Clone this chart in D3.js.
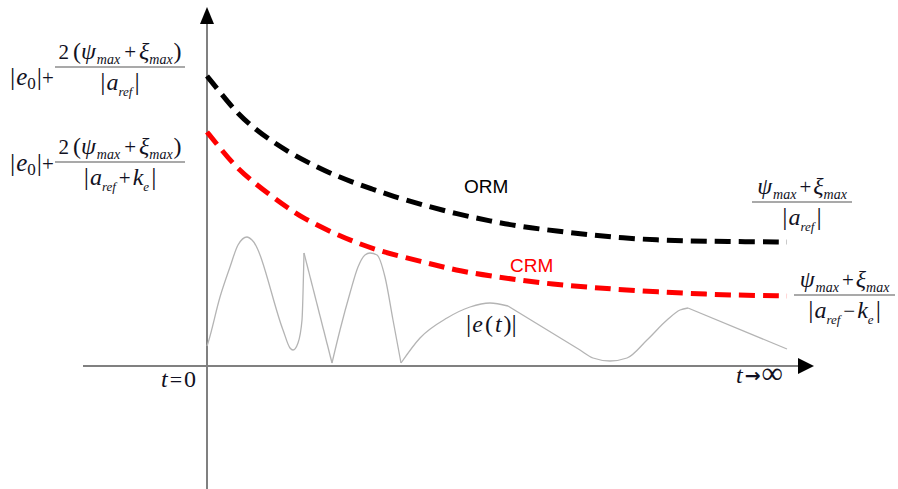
<!DOCTYPE html>
<html>
<head>
<meta charset="utf-8">
<script src="https://cdn.jsdelivr.net/npm/d3@7"></script>
<style>
  body { margin: 0; background: #fff; }
  svg { display: block; }
</style>
</head>
<body>
<script>
// bounds sketch: time t on x, error size on y (units)
var ormT = [0, 16, 31, 48, 66, 85, 106, 125, 145, 165, 185, 216, 250, 283, 316, 350, 383, 416, 450, 483, 516, 580];
var ormV = [290, 270, 252, 237, 224, 212, 201, 192, 184, 177, 170, 161, 152, 145, 139, 135, 131, 128, 126, 125, 124.5, 124];

var crmT = [0, 13, 28, 45, 63, 81, 96, 126, 150, 173, 200, 226, 253, 283, 313, 343, 390, 450, 516, 580];
var crmV = [234, 218, 200, 185, 171, 158, 148, 133, 123, 115, 108, 101.5, 95, 90, 86, 82, 78, 74, 71, 70];

var errT = [0, 1, 13, 23, 31, 40, 45, 76, 83, 86, 91, 95, 97, 125, 133, 143, 151, 158, 163, 170, 178, 186, 194,
            213, 240, 263, 283, 301, 373, 386, 403, 420, 440, 460, 473, 481, 580];
var errV = [20, 23, 69, 99, 121, 129, 126, 36, 18, 16, 23, 46, 113, 3, 36, 73, 99, 111, 113, 111, 89, 46, 3,
            28, 48, 59, 63, 60, 16, 8, 5, 8, 26, 46, 56, 58, 17];
// corners of |e(t)| where the curve is not smooth
var errCorners = [97, 125, 194, 301, 481];

var width = 898, height = 489;
var ink = "#111122";
var serif = "'Liberation Serif', 'Times New Roman', serif";
var sans = "'Liberation Sans', Arial, sans-serif";

var svg = d3.select("body").append("svg")
    .attr("width", width)
    .attr("height", height);

var x = d3.scaleLinear().domain([0, 600]).range([207, 807]);
var y = d3.scaleLinear().domain([0, 360]).range([366, 6]);

// axes (no ticks, just arrows)
svg.append("line")
    .attr("x1", x(-124)).attr("x2", x(592))
    .attr("y1", y(0)).attr("y2", y(0))
    .attr("stroke", "#808080").attr("stroke-width", 2);
svg.append("path")
    .attr("d", "M" + x(591) + "," + (y(0) - 8) + "L" + x(607) + "," + y(0) + "L" + x(591) + "," + (y(0) + 8) + "Z")
    .attr("fill", "#000");

svg.append("line")
    .attr("x1", x(0)).attr("x2", x(0))
    .attr("y1", y(-130)).attr("y2", y(344))
    .attr("stroke", "#808080").attr("stroke-width", 2);
svg.append("path")
    .attr("d", "M" + (x(0) - 7) + "," + y(342) + "L" + x(0) + "," + y(359) + "L" + (x(0) + 7) + "," + y(342) + "Z")
    .attr("fill", "#000");

function pts(ts, vs) { return ts.map(function(t, i) { return [t, vs[i]]; }); }

var smooth = d3.line()
    .x(function(d) { return x(d[0]); })
    .y(function(d) { return y(d[1]); })
    .curve(d3.curveBasis);

var piece = d3.line()
    .x(function(d) { return x(d[0]); })
    .y(function(d) { return y(d[1]); })
    .curve(d3.curveMonotoneX);

// split |e(t)| at its corners, smooth in between
var errPts = pts(errT, errV);
var segs = [], cur = [];
errPts.forEach(function(p) {
  cur.push(p);
  if (errCorners.indexOf(p[0]) >= 0) { segs.push(cur); cur = [p]; }
});
segs.push(cur);

svg.append("g").selectAll("path")
    .data(segs)
    .enter().append("path")
    .attr("d", piece)
    .attr("fill", "none")
    .attr("stroke", "#b4b4b4")
    .attr("stroke-width", 1.3)
    .attr("stroke-linejoin", "miter");

svg.append("path")
    .attr("d", smooth(pts(ormT, ormV)))
    .attr("fill", "none")
    .attr("stroke", "#000")
    .attr("stroke-width", 5)
    .attr("stroke-dasharray", "16,8");

svg.append("path")
    .attr("d", smooth(pts(crmT, crmV)))
    .attr("fill", "none")
    .attr("stroke", "#ff0000")
    .attr("stroke-width", 5)
    .attr("stroke-dasharray", "16,8");

// little math typesetter: parts = [text, {i: italic, s: size, sub: subscript, dx: gap}]
function mtext(g, px, py, parts, anchor) {
  var t = g.append("text")
      .attr("x", px).attr("y", py)
      .attr("text-anchor", anchor || "start")
      .attr("font-family", serif)
      .attr("fill", ink);
  var shift = 0;
  parts.forEach(function(p) {
    var o = p[1] || {};
    var s = t.append("tspan").text(p[0])
        .attr("font-style", o.i ? "italic" : "normal")
        .attr("font-size", o.s || 20);
    var target = o.sub ? (o.sub === true ? 5 : o.sub) : 0;
    var dy = target - shift;
    shift = target;
    if (dy) s.attr("dy", dy);
    if (o.dx) s.attr("dx", o.dx);
  });
  return t;
}

function frac(g, x1, x2, yb, num, den) {
  var cx = (x1 + x2) / 2;
  g.append("line")
      .attr("x1", x1).attr("x2", x2).attr("y1", yb).attr("y2", yb)
      .attr("stroke", "#555").attr("stroke-width", 1.2);
  mtext(g, cx, yb - 8, num, "middle");
  mtext(g, cx, yb + 23, den, "middle");
}

var bar = ["|", {s: 26}];
var numFull = [["2", {s: 21}], ["(", {s: 24, dx: 4}], ["\u03c8", {i: true, s: 24}], ["max", {i: true, s: 14, sub: true, dx: 1}],
               ["+", {s: 21, dx: 4}], ["\u03be", {i: true, s: 24, dx: 3}], ["max", {i: true, s: 14, sub: true}], [")", {s: 24, dx: 1}]];
var numShort = [["\u03c8", {i: true, s: 24}], ["max", {i: true, s: 14, sub: true, dx: 1}],
                ["+", {s: 21, dx: 3}], ["\u03be", {i: true, s: 24, dx: 2}], ["max", {i: true, s: 14, sub: true}]];
var denRef = [bar, ["a", {i: true, s: 24, dx: 1}], ["ref", {i: true, s: 13, sub: 6}], ["|", {s: 26, dx: 2}]];
var denPlus = [bar, ["a", {i: true, s: 24, dx: 1}], ["ref", {i: true, s: 13, sub: 6}], ["+", {s: 21, dx: 3}],
               ["k", {i: true, s: 24, dx: 2}], ["e", {i: true, s: 13, sub: 6}], ["|", {s: 26, dx: 2}]];
var denMinus = [bar, ["a", {i: true, s: 24, dx: 1}], ["ref", {i: true, s: 13, sub: 6}], ["\u2212", {s: 21, dx: 3}],
                ["k", {i: true, s: 24, dx: 2}], ["e", {i: true, s: 13, sub: 6}], ["|", {s: 26, dx: 2}]];
var e0plus = [bar, ["e", {i: true, s: 25, dx: 1}], ["0", {s: 17, sub: 4}], ["|", {s: 26, dx: 1}], ["+", {s: 21}]];

var ann = svg.append("g");

// left labels at t = 0
mtext(ann, 10, y(290) + 9, e0plus);
frac(ann, 55, 185, y(299), numFull, denRef);
mtext(ann, 10, y(204) + 9, e0plus);
frac(ann, 55, 185, y(204), numFull, denPlus);

// right labels at t -> infinity
frac(ann, 752, 852, y(164), numShort, denRef);
frac(ann, 794, 895, y(71), numShort, denMinus);

// curve names
ann.append("text").attr("x", 464).attr("y", 193)
    .attr("font-family", sans).attr("font-size", 19).attr("fill", "#000").text("ORM");
ann.append("text").attr("x", 510).attr("y", 272)
    .attr("font-family", sans).attr("font-size", 19).attr("fill", "#ff0000").text("CRM");

mtext(ann, 466, 332, [["|", {s: 26}], ["e", {i: true, s: 24, dx: 1}], ["(", {s: 24, dx: 2}], ["t", {i: true, s: 24, dx: 2}],
                      [")", {s: 24, dx: 2}], ["|", {s: 26}]]);

// time labels
mtext(ann, 161, 387, [["t", {i: true, s: 24}], ["=", {s: 22, dx: 2}], ["0", {s: 24, dx: 2}]]);
var tinf = mtext(ann, 736, 383, [["t", {i: true, s: 24}]]);
tinf.append("tspan").text("\u2192").attr("font-family", "'DejaVu Sans', sans-serif")
    .attr("font-weight", "bold").attr("font-size", 19).attr("dx", 2).attr("dy", -1);
tinf.append("tspan").text("\u221e").attr("font-size", 30).attr("dx", 1).attr("dy", 1);
</script>
</body>
</html>
